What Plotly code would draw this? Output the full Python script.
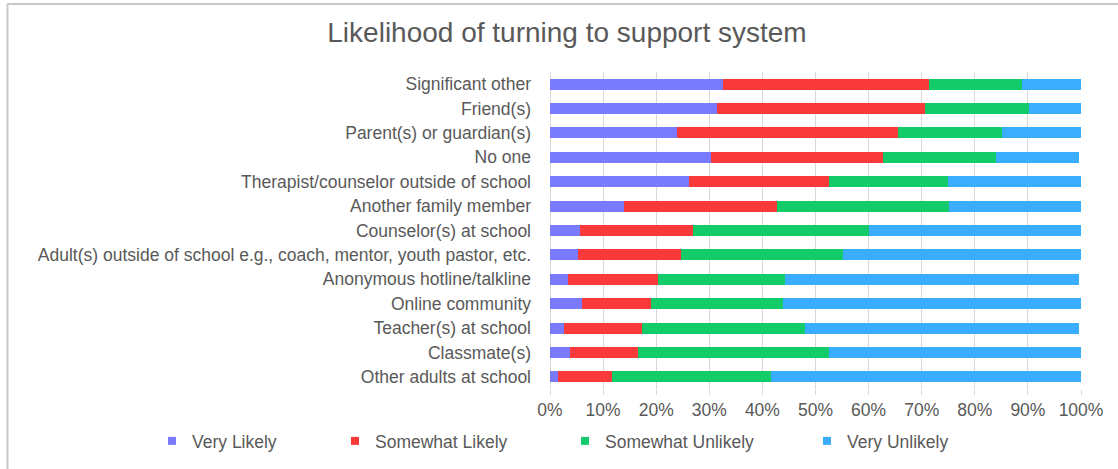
import plotly.graph_objects as go

categories = [
    "Significant other",
    "Friend(s)",
    "Parent(s) or guardian(s)",
    "No one",
    "Therapist/counselor outside of school",
    "Another family member",
    "Counselor(s) at school",
    "Adult(s) outside of school e.g., coach, mentor, youth pastor, etc.",
    "Anonymous hotline/talkline",
    "Online community",
    "Teacher(s) at school",
    "Classmate(s)",
    "Other adults at school",
]

very_likely = [32.5, 31.4, 23.9, 30.4, 26.1, 14.0, 5.7, 5.3, 3.4, 6.0, 2.7, 3.8, 1.5]
somewhat_likely = [38.9, 39.3, 41.6, 32.4, 26.4, 28.7, 21.2, 19.3, 17.0, 13.0, 14.6, 12.8, 10.2]
somewhat_unlikely = [17.5, 19.6, 19.7, 21.1, 22.4, 32.5, 33.2, 30.6, 23.9, 24.9, 30.7, 36.0, 29.9]
very_unlikely = [11.1, 9.7, 14.8, 15.8, 25.1, 24.8, 39.9, 44.8, 55.4, 56.1, 51.7, 47.4, 58.4]

series_names = ["Very Likely", "Somewhat Likely", "Somewhat Unlikely", "Very Unlikely"]
series_values = [very_likely, somewhat_likely, somewhat_unlikely, very_unlikely]
colors = ["#7a7aff", "#fa3a3a", "#13cc69", "#3aadff"]

W, H = 1118, 469
L, R, T, B = 550, 37, 72, 80
PW, PH = W - L - R, H - T - B

FONT = "Liberation Sans, Arial, Helvetica, sans-serif"
TXT = "#595959"
FS = 17.5

fig = go.Figure()
for name, vals, col in zip(series_names, series_values, colors):
    fig.add_trace(go.Bar(
        y=categories, x=[v / 100 for v in vals], orientation="h",
        name=name, marker=dict(color=col, line=dict(width=0)),
        showlegend=False,
    ))

# legend entries (one legend per entry for exact placement)
legend_text_x = [192, 375, 605, 847]
for i, (name, col) in enumerate(zip(series_names, colors)):
    lid = "legend" if i == 0 else f"legend{i+1}"
    fig.add_trace(go.Scatter(
        x=[None], y=[categories[0]], mode="markers", name=name,
        marker=dict(symbol="square", size=8, color=col),
        showlegend=True, legend=lid, hoverinfo="skip",
    ))
    fig.update_layout(**{lid: dict(
        xref="container", yref="container",
        x=(legend_text_x[i] - 40) / W, xanchor="left",
        y=1 - 441 / H, yanchor="middle",
        orientation="h", bgcolor="rgba(0,0,0,0)",
        font=dict(family=FONT, size=FS, color=TXT),
        borderwidth=0, itemclick=False,
    )})

# outer frame lines (top and left)
def px_x(p):
    return (p - L) / PW

def px_y(p):
    return (T + PH - p) / PH

fig.add_shape(type="line", xref="paper", yref="paper",
              x0=px_x(7), x1=px_x(1120), y0=px_y(4), y1=px_y(4),
              line=dict(color="#c8c8c8", width=2))
fig.add_shape(type="line", xref="paper", yref="paper",
              x0=px_x(7.5), x1=px_x(7.5), y0=px_y(4), y1=px_y(470),
              line=dict(color="#c8c8c8", width=2))

n = len(categories)
fig.update_layout(
    width=W, height=H,
    margin=dict(l=L, r=R, t=T, b=B, pad=0, autoexpand=False),
    barmode="stack", bargap=0.55,
    plot_bgcolor="white", paper_bgcolor="white",
    title=dict(text="Likelihood of turning to support system",
               xref="container", yref="container",
               x=567 / W, xanchor="center", y=1 - 32 / H, yanchor="middle",
               font=dict(family=FONT, size=28, color=TXT)),
    font=dict(family=FONT, size=FS, color=TXT),
    xaxis=dict(range=[0, 1], dtick=0.1, tick0=0, tickformat=".0%",
               showgrid=True, gridcolor="#d9d9d9", gridwidth=1,
               zeroline=True, zerolinecolor="#d9d9d9", zerolinewidth=1,
               ticks="outside", ticklen=5, tickcolor="#d9d9d9",
               showline=False, fixedrange=True, automargin=False,
               tickfont=dict(family=FONT, size=FS, color=TXT)),
    yaxis=dict(range=[n - 0.5, -0.5], autorange=False,
               showgrid=False, zeroline=False,
               ticks="", ticklabelstandoff=18, showline=False, automargin=False,
               tickfont=dict(family=FONT, size=FS, color=TXT)),
)

fig.write_html("out.html")
